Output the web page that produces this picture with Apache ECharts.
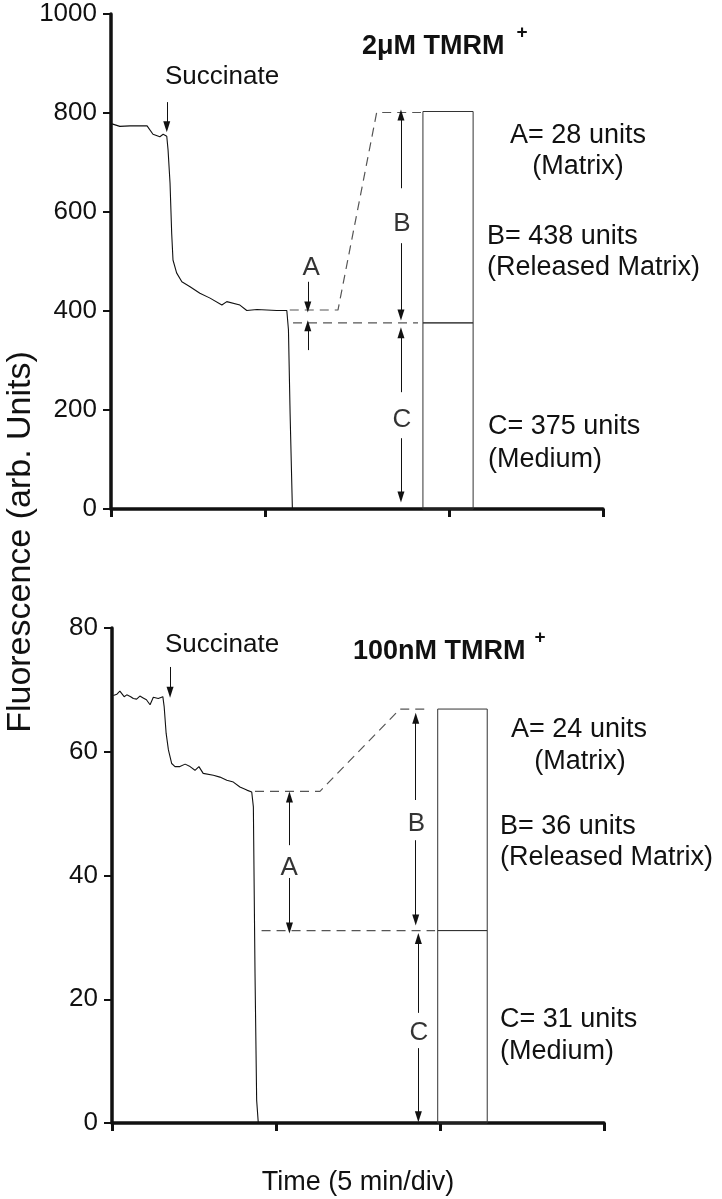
<!DOCTYPE html>
<html>
<head>
<meta charset="utf-8">
<script src="https://cdn.jsdelivr.net/npm/echarts@6/dist/echarts.min.js"></script>
<style>
html,body{margin:0;padding:0;background:#fff;}
#c{width:722px;height:1199px;}
</style>
</head>
<body>
<div id="c"></div>
<script>
// ---------- DATA ----------
// Top panel (2 µM TMRM+): time (min) and fluorescence
const topTime  = [0.03,0.27,0.58,1.10,1.28,1.49,1.59,1.70,1.74,1.80,1.85,1.89,2.00,2.16,2.41,2.71,3.02,3.38,3.53,3.93,4.14,4.45,4.75,5.05,5.36,5.41,5.46,5.53];
const topFluor = [778,773,774,774,757,752,757,753,725,658,557,503,477,459,449,436,426,412,419,412,401,403,402,401,401,362,194,0];
// Bottom panel (100 nM TMRM+)
const botTime  = [0.04,0.09,0.15,0.24,0.37,0.45,0.57,0.65,0.75,0.85,0.95,1.05,1.16,1.26,1.41,1.55,1.59,1.65,1.72,1.82,1.92,2.07,2.23,2.38,2.53,2.65,2.78,3.09,3.29,3.50,3.70,3.90,4.11,4.26,4.31,4.32,4.36,4.41,4.46];
const botFluor = [69.1,68.9,69.3,69.8,68.9,69.2,68.9,68.6,68.5,69.0,68.7,68.4,67.6,68.8,68.6,68.9,67.3,63.0,60.3,58.1,57.6,57.6,58.0,57.6,57.0,57.6,56.5,56.2,55.9,55.4,55.1,54.3,53.8,53.5,51.1,45.7,24.2,3.7,0];

// Extrapolation (dashed) lines
const topUpperDashT = [5.45, 6.92, 8.10, 9.45];
const topUpperDashV = [402, 402, 801, 801];
const topLowerDashT = [5.55, 9.36];
const topLowerDashV = [376, 376];
const botUpperDashT = [4.36, 6.34, 8.78, 9.70];
const botUpperDashV = [53.6, 53.6, 66.9, 66.9];
const botLowerDashT = [4.56, 9.85];
const botLowerDashV = [31.1, 31.1];

// Stacked boxes: [xStart, xEnd, yLow, yHigh]
const topBoxes = [[9.51, 11.04, 0, 376], [9.51, 11.04, 376, 803]];
const botBoxes = [[9.93, 11.44, 0, 31.1], [9.93, 11.44, 31.1, 66.9]];

// Arrows: [x, yFrom, yTo]  (arrow head at yTo)
const topArrows = [[1.70,822,772],[6.0,459,408],[6.0,321,370],[8.84,648,796],[8.84,537,392],[8.84,236,356],[8.84,143,24]];
const botArrows = [[1.77,73.7,69.6],[5.41,44.9,52.7],[5.41,39.6,31.5],[9.26,52.2,65.4],[9.26,45.7,32.8],[9.34,17.8,29.8],[9.34,12.1,1.0]];

// Letter labels: [x, y, text]
const topLetters = [[6.1,487,'A'],[8.87,576,'B'],[8.87,180,'C']];
const botLetters = [[5.40,41.2,'A'],[9.28,48.3,'B'],[9.36,14.6,'C']];

const topYTicks = [0, 200, 400, 600, 800, 1000];
const botYTicks = [0, 20, 40, 60, 80];
const topXTicks = [0, 4.7, 10.3, 15];

// ---------- CHART ----------
const FONT = 'Liberation Sans, Arial, Helvetica, sans-serif';
const INK = '#111';
const chart = echarts.init(document.getElementById('c'), null, {renderer:'canvas'});

function zip(a, b){ return a.map((v,i)=>[v,b[i]]); }

function xAxisCfg(idx, extra){
  return Object.assign({
    type:'value', gridIndex: idx, min:0, max:15,
    axisLine:{show:true, onZero:false, lineStyle:{color:INK, width:3.5}},
    axisTick:{show:true, inside:false, length:8, lineStyle:{color:INK, width:3}},
    axisLabel:{show:false}, splitLine:{show:false}
  }, extra);
}
function yAxisCfg(idx, ticks){
  return {
    type:'value', gridIndex: idx, min:ticks[0], max:ticks[ticks.length-1], interval:ticks[1]-ticks[0],
    axisLine:{show:true, onZero:false, lineStyle:{color:INK, width:3.5}},
    axisTick:{show:true, inside:false, length:8, lineStyle:{color:INK, width:2}},
    axisLabel:{show:true, color:INK, fontSize:26, fontFamily:FONT, margin:14, formatter: v => String(v)},
    splitLine:{show:false}
  };
}

function arrowMarkLine(arrows){
  return {
    silent:true, animation:false,
    symbol:['none','triangle'], symbolSize:[7,11],
    label:{show:false},
    lineStyle:{color:INK, width:1, type:'solid'},
    emphasis:{disabled:true},
    data: arrows.map(a => [{coord:[a[0],a[1]]},{coord:[a[0],a[2]]}])
  };
}

function boxSeries(idx, boxes){
  return {
    type:'custom', xAxisIndex:idx, yAxisIndex:idx, silent:true, animation:false,
    data: boxes,
    renderItem: function(params, api){
      const p0 = api.coord([api.value(0), api.value(3)]);
      const p1 = api.coord([api.value(1), api.value(2)]);
      return {type:'rect', shape:{x:p0[0], y:p0[1], width:p1[0]-p0[0], height:p1[1]-p0[1]},
              style:{fill:'none', stroke:'#333', lineWidth:1}};
    }
  };
}

function letterSeries(idx, letters){
  return {
    type:'scatter', xAxisIndex:idx, yAxisIndex:idx, silent:true, animation:false,
    symbolSize:0,
    data: letters.map(l => ({value:[l[0], l[1]], name:l[2]})),
    label:{show:true, position:'inside', formatter:p=>p.name, color:'#000', textBorderWidth:0, fontSize:26, fontFamily:FONT}
  };
}

function dashSeries(idx, t, v){
  return {
    type:'line', xAxisIndex:idx, yAxisIndex:idx, silent:true, animation:false,
    showSymbol:false, symbol:'none', data: zip(t, v),
    lineStyle:{color:'#555', width:1.2, type:[9,6]}
  };
}

function txt(x, y, s, size, opts){
  opts = opts || {};
  const align = opts.align || 'left';
  return {
    type:'text', x:x, y:y, rotation: opts.rotation || 0,
    style:{text:s, fill:INK, fontSize:size, fontFamily:FONT, fontWeight: opts.bold ? 'bold':'normal',
           align:align, textAlign:align, verticalAlign:'middle', textVerticalAlign:'middle'}
  };
}

const option = {
  backgroundColor:'#fff',
  animation:false,
  grid:[
    {left:111, top:14, width:492, height:495},
    {left:112, top:628, width:492, height:495}
  ],
  xAxis:[
    xAxisCfg(0, {axisTick:{show:true, inside:false, length:8, customValues: topXTicks, lineStyle:{color:INK, width:3}}}),
    xAxisCfg(1, {interval:5})
  ],
  yAxis:[
    yAxisCfg(0, topYTicks),
    yAxisCfg(1, botYTicks)
  ],
  series:[
    {type:'line', xAxisIndex:0, yAxisIndex:0, showSymbol:false, symbol:'none', silent:true,
     data: zip(topTime, topFluor), lineStyle:{color:INK, width:1.1},
     markLine: arrowMarkLine(topArrows)},
    dashSeries(0, topUpperDashT, topUpperDashV),
    dashSeries(0, topLowerDashT, topLowerDashV),
    boxSeries(0, topBoxes),
    letterSeries(0, topLetters),

    {type:'line', xAxisIndex:1, yAxisIndex:1, showSymbol:false, symbol:'none', silent:true,
     data: zip(botTime, botFluor), lineStyle:{color:INK, width:1.1},
     markLine: arrowMarkLine(botArrows)},
    dashSeries(1, botUpperDashT, botUpperDashV),
    dashSeries(1, botLowerDashT, botLowerDashV),
    boxSeries(1, botBoxes),
    letterSeries(1, botLetters)
  ],
  graphic:[
    txt(21, 542, 'Fluorescence (arb. Units)', 34, {align:'center', rotation: Math.PI/2}),
    txt(358, 1183, 'Time (5 min/div)', 27, {align:'center'}),
    // top panel annotations
    txt(165, 77, 'Succinate', 26),
    txt(362, 47, '2\u03bcM TMRM', 27, {bold:true}),
    txt(522, 33, '+', 19, {bold:true, align:'center'}),
    txt(578, 136, 'A= 28 units', 27, {align:'center'}),
    txt(578, 167, '(Matrix)', 27, {align:'center'}),
    txt(487, 237, 'B= 438 units', 27),
    txt(487, 268, '(Released Matrix)', 27),
    txt(488, 427, 'C= 375 units', 27),
    txt(488, 460, '(Medium)', 27),
    // bottom panel annotations
    txt(165, 645, 'Succinate', 26),
    txt(353, 652, '100nM TMRM', 27, {bold:true}),
    txt(540, 638, '+', 19, {bold:true, align:'center'}),
    txt(579, 730, 'A= 24 units', 27, {align:'center'}),
    txt(580, 762, '(Matrix)', 27, {align:'center'}),
    txt(500, 827, 'B= 36 units', 27),
    txt(500, 858, '(Released Matrix)', 27),
    txt(500, 1020, 'C= 31 units', 27),
    txt(500, 1052, '(Medium)', 27)
  ]
};
chart.setOption(option);
</script>
</body>
</html>
